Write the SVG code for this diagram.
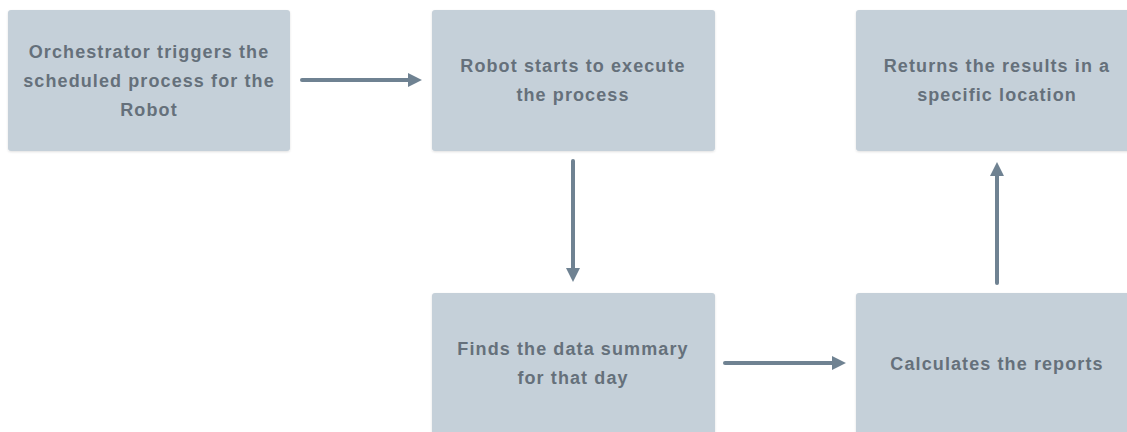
<svg xmlns="http://www.w3.org/2000/svg" width="1127" height="432" viewBox="0 0 1127 432">
<defs>
<style>
.box{fill:#c5d0d9;}
.t{font-family:"Liberation Sans",Arial,sans-serif;font-size:18px;font-weight:bold;letter-spacing:1.1px;fill:#65707b;text-anchor:middle;}
.c{stroke:#6f8292;stroke-width:4;fill:none;stroke-linecap:round;}
</style>
<marker id="ah" viewBox="0 0 10 10" refX="1" refY="5" markerWidth="3.6" markerHeight="3.6" orient="auto" markerUnits="strokeWidth">
<path d="M0,0 L10,5 L0,10 Z" fill="#6f8292"/>
</marker>
<filter id="sh" x="-5%" y="-5%" width="110%" height="115%">
<feDropShadow dx="0" dy="1" stdDeviation="1.2" flood-color="#000" flood-opacity="0.12"/>
</filter>
</defs>
<rect width="1127" height="432" fill="#ffffff"/>
<g id="n1"><rect class="box" x="8" y="10" width="282" height="141" rx="3" filter="url(#sh)"/>
<text class="t" x="149" y="58">Orchestrator triggers the</text>
<text class="t" x="149" y="87">scheduled process for the</text>
<text class="t" x="149" y="116">Robot</text></g>
<g id="n2"><rect class="box" x="432" y="10" width="283" height="141" rx="3" filter="url(#sh)"/>
<text class="t" x="573" y="72">Robot starts to execute</text>
<text class="t" x="573" y="101">the process</text></g>
<g id="n3"><rect class="box" x="856" y="10" width="283" height="141" rx="3" filter="url(#sh)"/>
<text class="t" x="997" y="72">Returns the results in a</text>
<text class="t" x="997" y="101">specific location</text></g>
<g id="n4"><rect class="box" x="432" y="293" width="283" height="150" rx="3" filter="url(#sh)"/>
<text class="t" x="573" y="355">Finds the data summary</text>
<text class="t" x="573" y="384">for that day</text></g>
<g id="n5"><rect class="box" x="856" y="293" width="283" height="150" rx="3" filter="url(#sh)"/>
<text class="t" x="997" y="370">Calculates the reports</text></g>
<g id="connectors">
<line class="c" x1="302" y1="80" x2="409" y2="80" marker-end="url(#ah)"/>
<line class="c" x1="573" y1="161" x2="573" y2="269" marker-end="url(#ah)"/>
<line class="c" x1="725" y1="363" x2="833" y2="363" marker-end="url(#ah)"/>
<line class="c" x1="997" y1="283" x2="997" y2="175" marker-end="url(#ah)"/>
</g>
</svg>
